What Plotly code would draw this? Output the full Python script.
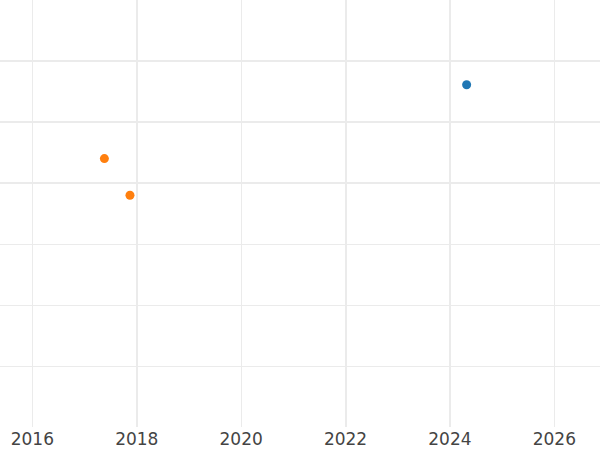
import plotly.graph_objects as go

# data
blue_x = [2024.32]
blue_y = [5.61]
orange_x = [2017.38, 2017.87]
orange_y = [4.40, 3.80]

x_ticks = [2016, 2018, 2020, 2022, 2024, 2026]
x_major = [2018, 2022, 2024]
y_ticks = [1, 2, 3, 4, 5, 6]
y_major = [4, 5, 6]

x_range = [2015.38, 2026.875]
y_range = [0, 7]

fig = go.Figure()
fig.add_trace(go.Scatter(x=orange_x, y=orange_y, mode='markers',
                         marker=dict(color='#ff7f0e', size=9)))
fig.add_trace(go.Scatter(x=blue_x, y=blue_y, mode='markers',
                         marker=dict(color='#1f77b4', size=9), xaxis='x2', yaxis='y2'))

fig.update_layout(
    width=600, height=450,
    plot_bgcolor='white', paper_bgcolor='white',
    margin=dict(l=0, r=0, t=0, b=23),
    showlegend=False,
    font=dict(family='DejaVu Sans', color='#444444'),
    xaxis=dict(range=x_range, tickvals=x_ticks, showgrid=True, gridcolor='#ebebeb', gridwidth=1,
               zeroline=False, showline=False, ticks='', tickfont=dict(size=17)),
    yaxis=dict(range=y_range, tickvals=y_ticks, showgrid=True, gridcolor='#ebebeb', gridwidth=1,
               zeroline=False, showline=False, showticklabels=False),
    xaxis2=dict(range=x_range, tickvals=x_major, overlaying='x', anchor='y', showgrid=True,
                gridcolor='#ebebeb', gridwidth=2, zeroline=False, showticklabels=False),
    yaxis2=dict(range=y_range, tickvals=y_major, overlaying='y', anchor='x', showgrid=True,
                gridcolor='#ebebeb', gridwidth=2, zeroline=False, showticklabels=False),
)

fig.write_html("out.html", config=dict(displayModeBar=False),
               post_script="document.body.style.margin='0';")
